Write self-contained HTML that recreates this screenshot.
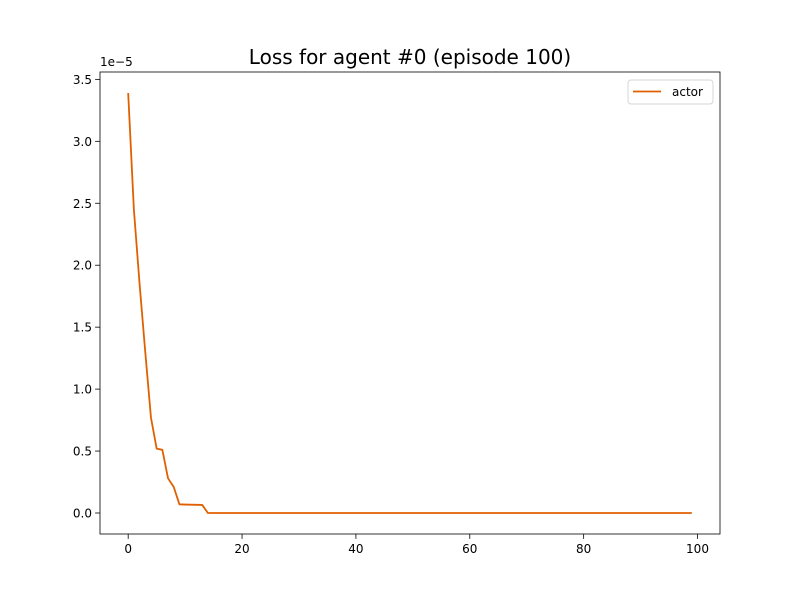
<!DOCTYPE html>
<html><head><meta charset="utf-8"><style>
body{margin:0;background:#fff;font-family:"Liberation Sans","DejaVu Sans",sans-serif}
svg text{font-family:"DejaVu Sans","Liberation Sans",sans-serif}
</style></head><body>
<svg id="c" width="800" height="600" xmlns="http://www.w3.org/2000/svg"></svg>
<script>
const head = [3.39, 2.45, 1.85, 1.30, 0.77, 0.52, 0.51, 0.28, 0.21, 0.07, 0.068, 0.067, 0.066, 0.065, 0.0];
const actor = head.concat(new Array(85).fill(0));
const xTicks = [0, 20, 40, 60, 80, 100];
const yTicks = [0.0, 0.5, 1.0, 1.5, 2.0, 2.5, 3.0, 3.5];
const L=100,R=720,T=72,B=534;
const xmin=-4.95,xmax=103.95,ymin=-0.1695,ymax=3.5595;
const X=v=>L+(v-xmin)/(xmax-xmin)*(R-L);
const Y=v=>B-(v-ymin)/(ymax-ymin)*(B-T);
const s=document.getElementById('c');
const NS='http://www.w3.org/2000/svg';
function mk(t,a,txt){const e=document.createElementNS(NS,t);for(const k in a)e.setAttribute(k,a[k]);if(txt!==undefined)e.textContent=txt;s.appendChild(e);return e;}
let e=mk('text',{x:410,y:64,'text-anchor':'middle','font-size':20},'Loss for agent #0 (episode 100)');


xTicks.forEach(v=>{
  let t=mk('line',{x1:X(v),x2:X(v),y1:B,y2:B+4.9,stroke:'#000','stroke-width':0.8});
  
  
  let l=mk('text',{x:X(v),y:B+19,'text-anchor':'middle','font-size':12},String(v));
  
  
});
yTicks.forEach(v=>{
  let t=mk('line',{x1:L-4.9,x2:L,y1:Y(v),y2:Y(v),stroke:'#000','stroke-width':0.8});
  
  
  let l=mk('text',{x:L-8,y:Y(v)+4.5,'text-anchor':'end','font-size':12},v.toFixed(1));
  
  
});
e=mk('text',{x:L,y:T-6,'font-size':12},'1e\u22125');


e=mk('polyline',{points:actor.map((v,i)=>X(i)+','+Y(v)).join(' '),fill:'none',stroke:'#e06000','stroke-width':1.8,'stroke-linejoin':'round'});


e=mk('rect',{x:L,y:T,width:R-L,height:B-T,fill:'none',stroke:'#000','stroke-width':0.8});


e=mk('rect',{x:628,y:80,width:85,height:24,rx:3,fill:'#fff',stroke:'#d5d5d5','stroke-width':1});


e=mk('line',{x1:633,x2:661,y1:91.5,y2:91.5,stroke:'#e06000','stroke-width':1.8});


e=mk('text',{x:672,y:96,'font-size':12},'actor');


</script>
</body></html>
